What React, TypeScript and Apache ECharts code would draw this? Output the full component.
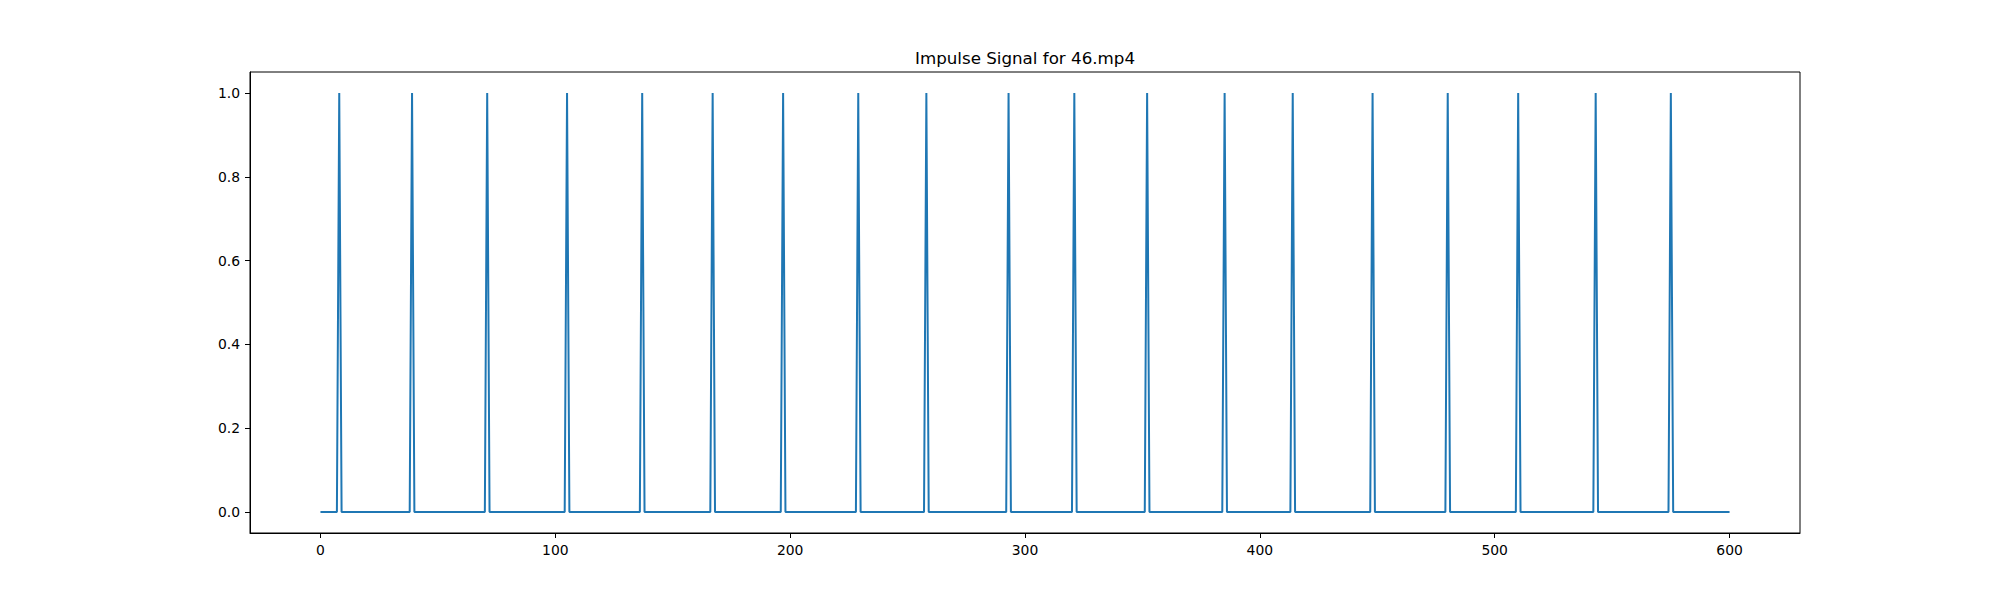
import React, { useEffect, useRef } from "react";
import * as echarts from "echarts";

const titleText = "Impulse Signal for 46.mp4";
const xStart = 0;
const xEnd = 600;
const impulseFrames = [8, 39, 71, 105, 137, 167, 197, 229, 258, 293, 321, 352, 385, 414, 448, 480, 510, 543, 575];
const xTicks = [0, 100, 200, 300, 400, 500, 600];
const yTicks = [0, 0.2, 0.4, 0.6, 0.8, 1.0];

export default function App() {
  const ref = useRef<HTMLDivElement>(null);
  useEffect(() => {
    if (!ref.current) return;
    const chart = echarts.init(ref.current, null, { renderer: "svg" });
    const data: [number, number][] = [];
    for (let x = xStart; x <= xEnd; x++) {
      data.push([x, impulseFrames.includes(x) ? 1 : 0]);
    }
    const font = "DejaVu Sans";
    chart.setOption({
      animation: false,
      backgroundColor: "#ffffff",
      grid: {
        left: 250,
        right: 200,
        top: 72,
        bottom: 67,
        show: true,
        borderColor: "#000000",
        borderWidth: 1,
        backgroundColor: "transparent",
      },
      graphic: [
        {
          type: "text",
          x: 1025,
          y: 58,
          style: {
            text: titleText,
            fill: "#000000",
            font: `16.7px "${font}"`,
            textAlign: "center",
            textVerticalAlign: "middle",
          },
        },
      ],
      xAxis: {
        type: "value",
        min: -30,
        max: 630,
        splitLine: { show: false },
        axisLine: { show: true, onZero: false, lineStyle: { color: "#000", width: 1 } },
        axisTick: { show: true, customValues: xTicks, length: 5, lineStyle: { color: "#000" } },
        axisLabel: {
          customValues: xTicks,
          margin: 10,
          color: "#000",
          fontFamily: font,
          fontSize: 13.9,
        },
      },
      yAxis: {
        type: "value",
        min: -0.05,
        max: 1.05,
        splitLine: { show: false },
        axisLine: { show: true, onZero: false, lineStyle: { color: "#000", width: 1 } },
        axisTick: { show: true, customValues: yTicks, length: 5, lineStyle: { color: "#000" } },
        axisLabel: {
          customValues: yTicks,
          margin: 10,
          color: "#000",
          fontFamily: font,
          fontSize: 13.9,
          formatter: (v: number) => v.toFixed(1),
        },
      },
      series: [
        {
          type: "line",
          data,
          showSymbol: false,
          symbol: "none",
          lineStyle: { color: "#1f77b4", width: 2 },
          itemStyle: { color: "#1f77b4" },
        },
      ],
    });
    return () => chart.dispose();
  }, []);
  return (
    <div
      ref={ref}
      style={{ position: "fixed", left: 0, top: 0, width: 2000, height: 600 }}
    />
  );
}
